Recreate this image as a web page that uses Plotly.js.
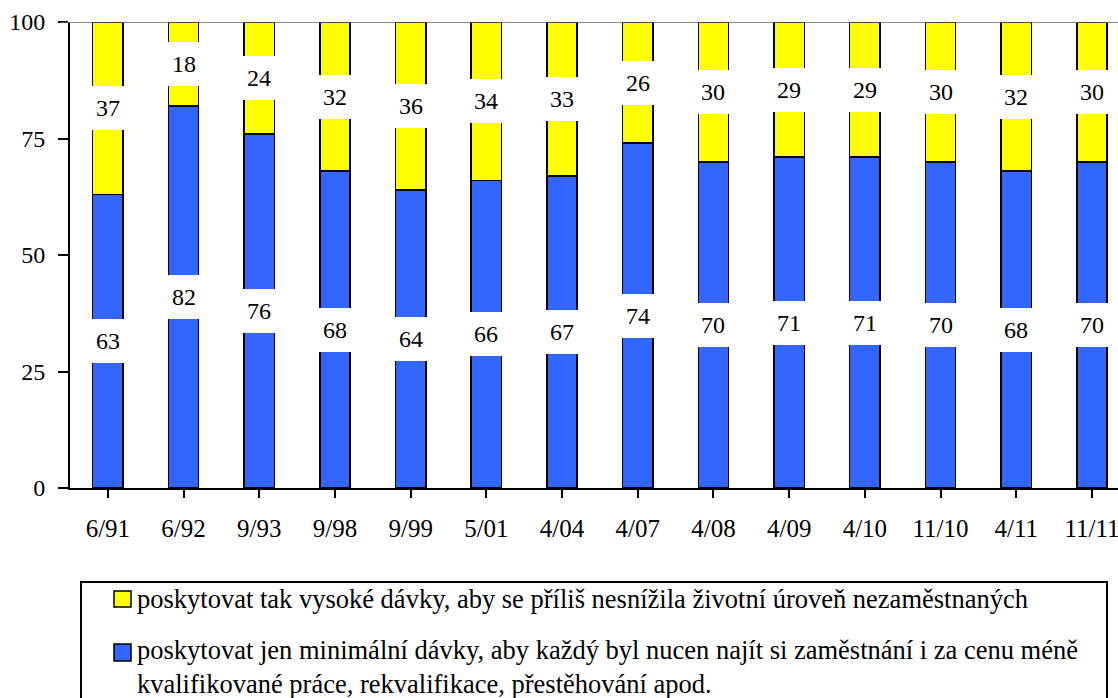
<!DOCTYPE html>
<html>
<head>
<meta charset="utf-8">
<script src="https://cdn.plot.ly/plotly-3.0.1.min.js"></script>
<style>
html,body{margin:0;padding:0;background:#fff;}
#chart{width:1118px;height:698px;}
</style>
</head>
<body>
<div id="chart"></div>
<script>
// ---- data ----
const categories = ["6/91","6/92","9/93","9/98","9/99","5/01","4/04","4/07","4/08","4/09","4/10","11/10","4/11","11/11"];
const minimalBenefits = [63,82,76,68,64,66,67,74,70,71,71,70,68,70];   // blue
const highBenefits    = [37,18,24,32,36,34,33,26,30,29,29,30,32,30];   // yellow
const seriesNames = [
  "poskytovat tak vysoké dávky, aby se příliš nesnížila životní úroveň nezaměstnaných",
  "poskytovat jen minimální dávky, aby každý byl nucen najít si zaměstnání i za cenu méně<br>kvalifikované práce, rekvalifikace, přestěhování apod."
];
const seriesColors = ["#FFFF00", "#3366FF"];
const yTicks = [0,25,50,75,100];

// ---- layout constants ----
const W = 1118, H = 698;
const mL = 70, mR = 0, mT = 22, mB = 210;
const plotW = W - mL - mR, plotH = H - mT - mB;
const px2x = p => (p - mL) / plotW;           // pixel -> paper x
const py2y = p => (H - mB - p) / plotH;       // pixel -> paper y
const FONT = "'Liberation Serif', 'Times New Roman', 'DejaVu Serif', serif";

const idx = categories.map((c, i) => i);

const traces = [
  {
    type: "bar", x: idx, y: minimalBenefits, name: seriesNames[1],
    width: 0.4, marker: {color: seriesColors[1], line: {color: "#000", width: 1.5}},
    showlegend: false, hoverinfo: "skip"
  },
  {
    type: "bar", x: idx, y: highBenefits, name: seriesNames[0],
    width: 0.4, marker: {color: seriesColors[0], line: {color: "#000", width: 1.5}},
    showlegend: false, hoverinfo: "skip"
  }
];

const annotations = [];
idx.forEach(i => {
  const b = minimalBenefits[i], yv = highBenefits[i];
  [[b / 2, b], [b + yv / 2, yv]].forEach(([ym, v]) => {
    annotations.push({
      x: i, y: ym, xref: "x", yref: "y", text: String(v), showarrow: false,
      xanchor: "center", yanchor: "middle",
      bgcolor: "#fff", borderwidth: 0, borderpad: 0, width: 34, height: 44,
      font: {family: FONT, size: 24, color: "#000"}
    });
  });
});

// legend (manual, Excel-style box)
const shapes = [
  {type: "line", xref: "paper", yref: "y", x0: px2x(60), x1: 1.02, y0: 100, y1: 100,
   line: {color: "#666", width: 1.5}},
  {type: "rect", xref: "paper", yref: "paper",
   x0: px2x(81), x1: px2x(1107), y0: py2y(582), y1: py2y(720),
   line: {color: "#000", width: 2}, fillcolor: "rgba(0,0,0,0)"}
];
const legendRows = [
  {sq: [591, 607], textY: 599, nameIdx: 0},
  {sq: [644, 661], textY: 667, nameIdx: 1}
];
legendRows.forEach(r => {
  shapes.push({type: "rect", xref: "paper", yref: "paper",
    x0: px2x(114), x1: px2x(131), y0: py2y(r.sq[1]), y1: py2y(r.sq[0]),
    line: {color: "#000", width: 1.5}, fillcolor: seriesColors[r.nameIdx]});
  annotations.push({
    xref: "paper", yref: "paper", x: px2x(135), y: py2y(r.textY),
    xanchor: "left", yanchor: "middle", align: "left", showarrow: false,
    text: seriesNames[r.nameIdx],
    font: {family: FONT, size: 26.5, color: "#000"}
  });
});

const layout = {
  width: W, height: H,
  margin: {l: mL, r: mR, t: mT, b: mB, pad: 0},
  paper_bgcolor: "#fff", plot_bgcolor: "#fff",
  font: {family: FONT, size: 24, color: "#000"},
  barmode: "stack",
  showlegend: false,
  xaxis: {
    range: [-0.5, -0.5 + plotW / 75.7],
    tickmode: "array", tickvals: idx, ticktext: categories,
    tickson: "boundaries", ticks: "outside", ticklen: 8, tickwidth: 2, tickcolor: "#000",
    showline: true, linecolor: "#000", linewidth: 2,
    showgrid: false, zeroline: false, fixedrange: true,
    ticklabelstandoff: 9, ticklabeloverflow: "allow",
    tickfont: {family: FONT, size: 25, color: "#000"}
  },
  yaxis: {
    range: [0, 100],
    tickmode: "array", tickvals: yTicks, ticktext: yTicks.map(String),
    ticks: "outside", ticklen: 10, tickwidth: 2, tickcolor: "#000",
    showline: true, linecolor: "#000", linewidth: 2,
    showgrid: false, zeroline: false, fixedrange: true,
    ticklabelstandoff: 8,
    tickfont: {family: FONT, size: 24, color: "#000"}
  },
  shapes: shapes,
  annotations: annotations
};

Plotly.newPlot("chart", traces, layout, {staticPlot: true, displayModeBar: false});
</script>
</body>
</html>
